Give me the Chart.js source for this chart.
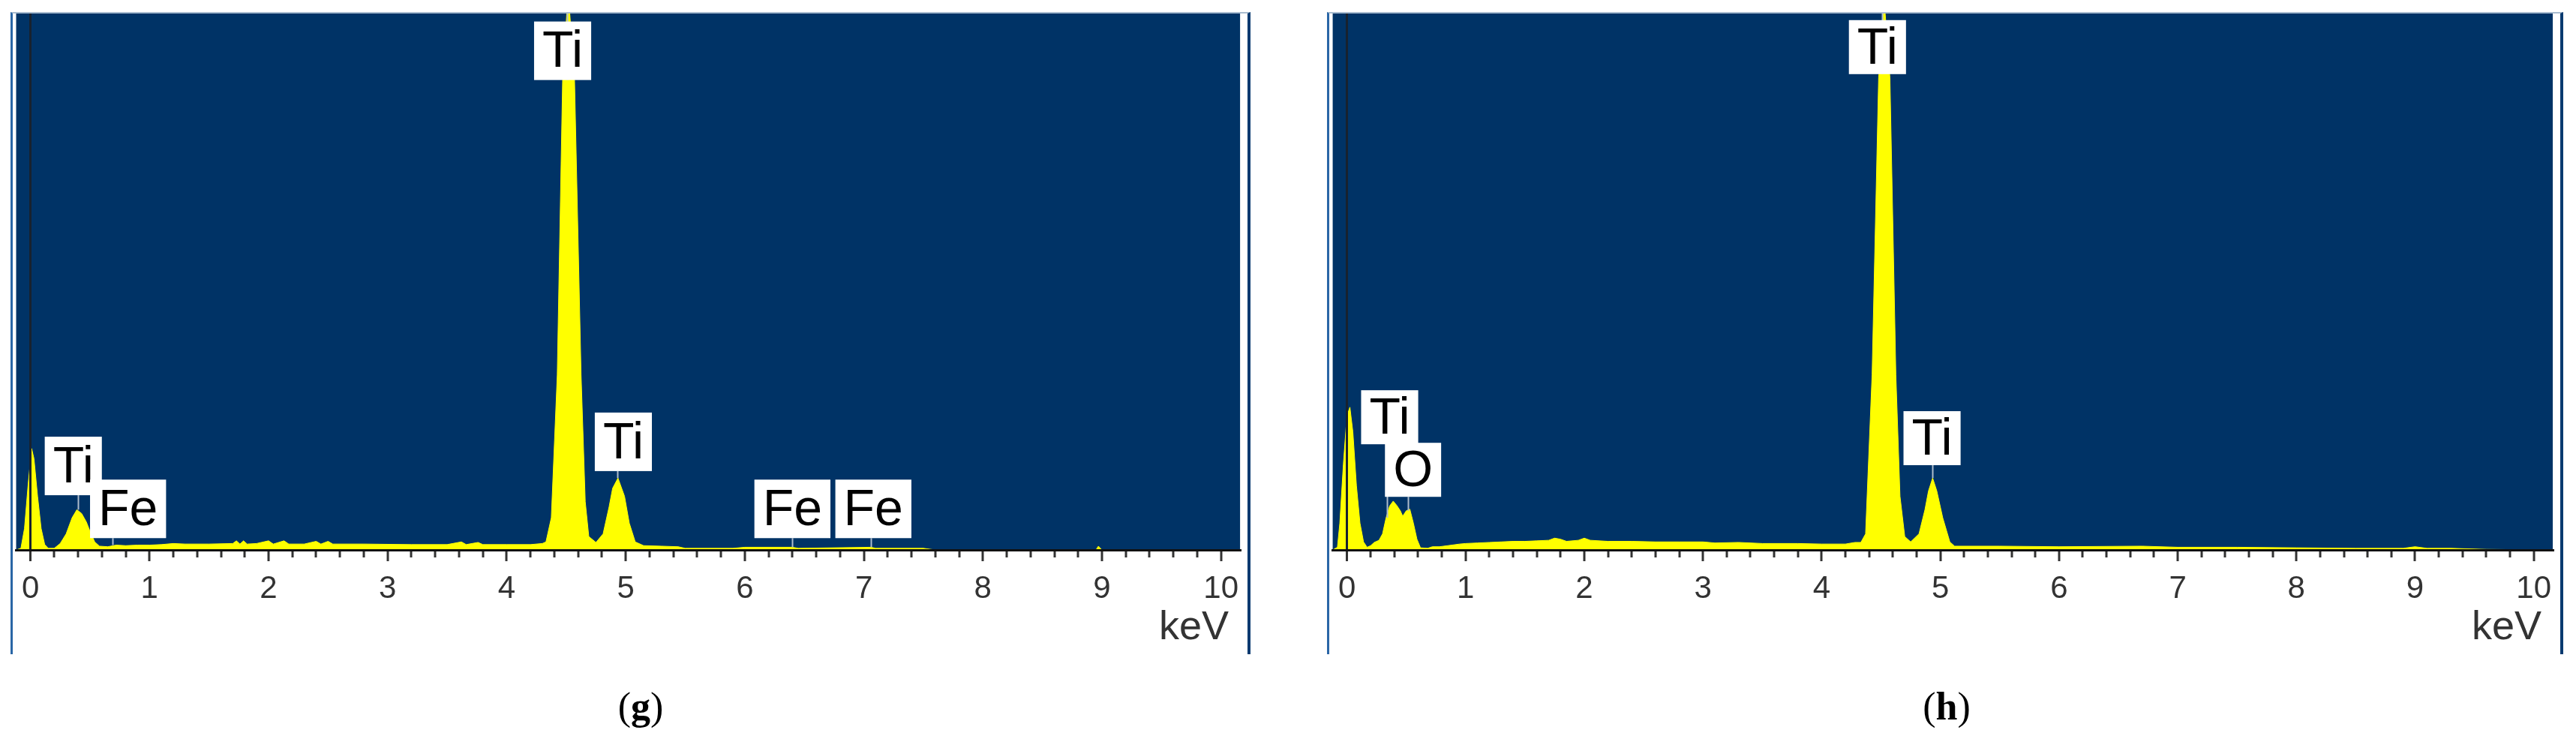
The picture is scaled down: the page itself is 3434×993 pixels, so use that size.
<!DOCTYPE html>
<html>
<head>
<meta charset="utf-8">
<script src="https://cdn.jsdelivr.net/npm/chart.js@4.4.1/dist/chart.umd.min.js"></script>
<style>
  body { margin: 0; width: 3434px; height: 993px; background: #fff; position: relative; overflow: hidden; }
  .panel { position: absolute; top: 16px; border-top: 2px solid #a9bccf; border-left: 3px solid #2a66a6; border-right: 4px solid #0a3a70; }
  .panel canvas { display: block; }
  .caption { position: absolute; top: 912px; font-family: "Liberation Serif", "Times New Roman", serif; font-size: 52px; color: #000; transform: translateX(-50%); }
</style>
</head>
<body>
<div class="panel" style="left:14px"><canvas id="chartG" width="1646" height="854"></canvas></div>
<div class="panel" style="left:1769px"><canvas id="chartH" width="1641" height="854"></canvas></div>
<div class="caption" style="left:854px">(<b>g</b>)</div>
<div class="caption" style="left:2595px">(<b>h</b>)</div>
<script>
// axis labels (keV)
const tickLabels = ["0", "1", "2", "3", "4", "5", "6", "7", "8", "9", "10"];

// spectrum (g): energy in keV, counts as % of full scale
const energyG = [-0.12, -0.08, -0.05, -0.02, 0.01, 0.03, 0.06, 0.09, 0.12, 0.15,
  0.2, 0.25, 0.3, 0.35, 0.39, 0.43, 0.47, 0.5, 0.54, 0.58,
  0.65, 0.72, 0.8, 0.9, 1.0, 1.1, 1.2, 1.3, 1.5, 1.7,
  1.73, 1.76, 1.79, 1.82, 1.9, 2.0, 2.04, 2.13, 2.17, 2.3,
  2.4, 2.44, 2.5, 2.54, 2.8, 3.2, 3.5, 3.62, 3.66, 3.76,
  3.8, 4.0, 4.2, 4.3, 4.33, 4.375, 4.425, 4.47, 4.505, 4.53,
  4.57, 4.625, 4.66, 4.69, 4.75, 4.81, 4.86, 4.89, 4.935, 4.99,
  5.03, 5.08, 5.15, 5.3, 5.44, 5.5, 5.9, 6.0, 6.4, 6.45,
  7.06, 7.1, 7.5, 7.6, 8.95, 8.97, 9.0, 10.16];
const countsG = [0, 0.3, 4, 12, 18.9, 17, 10, 4, 1, 0.3,
  0.3, 1.2, 3, 6, 7.5, 6.8, 5.2, 3.5, 1.5, 0.7,
  0.6, 0.9, 0.8, 0.9, 0.9, 1.0, 1.2, 1.1, 1.1, 1.2,
  1.7, 1.1, 1.7, 1.1, 1.2, 1.7, 1.1, 1.7, 1.1, 1.1,
  1.6, 1.1, 1.6, 1.1, 1.1, 1.0, 1.0, 1.5, 1.0, 1.4,
  1.0, 1.0, 1.0, 1.2, 1.5, 6, 32.6, 87.6, 100, 100,
  87.6, 32.6, 9, 2.5, 1.4, 3, 8, 11.5, 13.4, 10,
  5, 1.5, 0.8, 0.7, 0.6, 0.3, 0.3, 0.5, 0.5, 0.3,
  0.5, 0.3, 0.3, 0, 0, 0.7, 0, 0];

// spectrum (h)
const energyH = [-0.12, -0.08, -0.06, -0.03, 0.0, 0.025, 0.05, 0.08, 0.11, 0.14,
  0.17, 0.2, 0.23, 0.27, 0.3, 0.33, 0.36, 0.39, 0.42, 0.45,
  0.47, 0.5, 0.53, 0.56, 0.59, 0.62, 0.68, 0.72, 0.78, 0.85,
  0.95, 1.0, 1.1, 1.2, 1.3, 1.4, 1.5, 1.6, 1.7, 1.75,
  1.8, 1.85, 1.95, 2.0, 2.05, 2.2, 2.4, 2.6, 2.8, 3.0,
  3.1, 3.3, 3.5, 3.8, 4.0, 4.2, 4.28, 4.33, 4.37, 4.425,
  4.48, 4.52, 4.535, 4.575, 4.625, 4.66, 4.7, 4.75, 4.82, 4.87,
  4.9, 4.935, 4.97, 5.02, 5.08, 5.12, 5.5, 6.0, 6.7, 7.0,
  7.5, 8.0, 8.5, 8.9, 9.0, 9.1, 9.3, 9.6, 10.16];
const countsH = [0, 0.5, 5, 16, 25, 26.6, 22, 12, 5, 1.5,
  0.5, 0.8, 1.4, 1.8, 3, 6, 8.2, 9.1, 8.3, 7.3,
  6.3, 7.3, 7.6, 5, 2, 0.4, 0.3, 0.6, 0.6, 0.8,
  1.1, 1.2, 1.3, 1.4, 1.5, 1.6, 1.6, 1.7, 1.8, 2.2,
  2.0, 1.6, 1.8, 2.2, 1.8, 1.6, 1.6, 1.5, 1.5, 1.5,
  1.3, 1.4, 1.2, 1.2, 1.1, 1.1, 1.4, 1.4, 3, 32.7,
  88, 100, 100, 88, 32.7, 10, 2.5, 1.5, 3, 7.5,
  11, 13.4, 11, 6, 1.5, 0.7, 0.7, 0.6, 0.7, 0.5,
  0.5, 0.4, 0.3, 0.3, 0.6, 0.3, 0.3, 0.1, 0];

// element markers
const elementsG = ["Ti", "Ti", "Ti", "Fe", "Fe", "Fe"];
const lineEnergyG = [4.51, 4.93, 0.40, 0.69, 6.40, 7.06];
const elementsH = ["Ti", "Ti", "Ti", "O"];
const lineEnergyH = [4.51, 4.935, 0.34, 0.515];

// where the label boxes sit: [centre keV, bottom % of scale]
const boxesG = [[4.47, 87.6], [4.98, 14.7], [0.36, 10.2], [0.82, 2.2], [6.40, 2.2], [7.08, 2.2]];
const boxesH = [[4.47, 88.7], [4.93, 15.8], [0.36, 19.7], [0.557, 9.9]];

const minorTicks = [];
for (let k = 0; k <= 50; k++) minorTicks.push(k / 5);

function countAt(energies, counts, e) {
  let best = 0;
  energies.forEach((v, i) => { if (Math.abs(v - e) < Math.abs(energies[best] - e)) best = i; });
  return counts[best];
}

const plotBg = {
  id: "plotBg",
  beforeDraw(chart) {
    const { ctx, chartArea: a } = chart;
    ctx.save();
    ctx.fillStyle = "#003366";
    ctx.fillRect(a.left, a.top, a.right - a.left, a.bottom - a.top);
    ctx.restore();
  }
};

const peakLabels = {
  id: "peakLabels",
  afterDatasetsDraw(chart, args, opts) {
    const { ctx, scales: { x, y } } = chart;
    ctx.save();
    ctx.font = '68px "Liberation Sans", Arial, sans-serif';
    ctx.textAlign = "center";
    ctx.textBaseline = "middle";
    ctx.strokeStyle = "#aebccc";
    ctx.lineWidth = 2;
    opts.names.forEach((name, i) => {
      const lx = Math.round(x.getPixelForValue(opts.energies[i])) + 0.5;
      ctx.beginPath();
      ctx.moveTo(lx, y.getPixelForValue(opts.boxes[i][1]));
      ctx.lineTo(lx, y.getPixelForValue(countAt(opts.ex, opts.cy, opts.energies[i])));
      ctx.stroke();
    });
    opts.names.forEach((name, i) => {
      const cx = x.getPixelForValue(opts.boxes[i][0]);
      const bottom = y.getPixelForValue(opts.boxes[i][1]);
      const w = ctx.measureText(name).width + 22;
      const h = opts.boxHeight;
      ctx.fillStyle = "#ffffff";
      ctx.fillRect(cx - w / 2, bottom - h, w, h);
      ctx.fillStyle = "#000000";
      ctx.fillText(name, cx, bottom - h / 2 + 3);
    });
    ctx.restore();
  }
};

function drawSpectrum(id, energies, counts, names, lineEnergies, boxes, boxHeight) {
  new Chart(document.getElementById(id), {
    type: "line",
    data: {
      datasets: [{
        data: energies.map((e, i) => ({ x: e, y: counts[i] })),
        borderColor: "#ffff00",
        backgroundColor: "#ffff00",
        borderWidth: 1,
        fill: "origin",
        pointRadius: 0,
        tension: 0
      }]
    },
    options: {
      responsive: false,
      animation: false,
      events: [],
      layout: { padding: 0 },
      plugins: {
        legend: { display: false },
        tooltip: { enabled: false },
        peakLabels: { names, energies: lineEnergies, boxes, boxHeight, ex: energies, cy: counts }
      },
      scales: {
        x: {
          type: "linear",
          min: -0.12,
          max: 10.16,
          afterBuildTicks: (scale) => { scale.ticks = minorTicks.map((v) => ({ value: v })); },
          afterFit: (scale) => { scale.height = 139; },
          ticks: {
            autoSkip: false,
            maxRotation: 0,
            padding: 12,
            color: "#333333",
            font: { family: '"Liberation Sans", Arial, sans-serif', size: 42 },
            callback: (v) => (Math.abs(v - Math.round(v)) < 1e-6 ? tickLabels[Math.round(v)] : "")
          },
          grid: {
            z: 1,
            drawOnChartArea: true,
            tickLength: 15,
            color: (c) => (c.tick && Math.abs(c.tick.value) < 1e-6 ? "#18222e" : "rgba(0,0,0,0)"),
            lineWidth: (c) => (c.tick && Math.abs(c.tick.value) < 1e-6 ? 3 : 0),
            tickColor: "#333333",
            tickWidth: 3,
            tickBorderDash: (c) => (c.tick && Math.abs(c.tick.value - Math.round(c.tick.value)) < 1e-6 ? [] : [8, 40])
          },
          border: { display: true, z: 1, color: "#111111", width: 3 },
          title: {
            display: true,
            text: "keV ",
            align: "end",
            color: "#333333",
            font: { family: '"Liberation Sans", Arial, sans-serif', size: 54 },
            padding: { top: 0, bottom: 2 }
          }
        },
        y: { display: false, min: 0, max: 100 }
      }
    },
    plugins: [plotBg, peakLabels]
  });
}

drawSpectrum("chartG", energyG, countsG, elementsG, lineEnergyG, boxesG, 78);
drawSpectrum("chartH", energyH, countsH, elementsH, lineEnergyH, boxesH, 72);
</script>
</body>
</html>
